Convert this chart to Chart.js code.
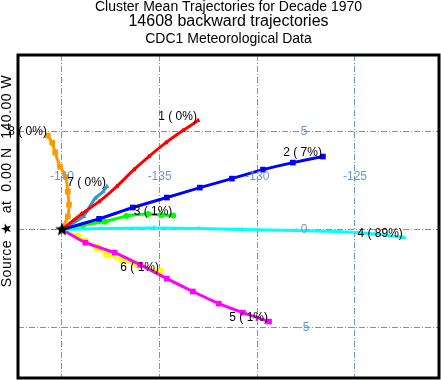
<!DOCTYPE html>
<html>
<head>
<meta charset="utf-8">
<script src="https://cdn.jsdelivr.net/npm/chart.js@4/dist/chart.umd.min.js"></script>
<style>
  html, body { margin: 0; padding: 0; background: #fff; }
  #wrap { width: 441px; height: 380px; position: relative; }
</style>
</head>
<body>
<div id="wrap"><canvas id="trajChart"></canvas></div>
<script>
// --- data (lon, lat) ---
const sourceLon = [-140];
const sourceLat = [0];

const c1Lon = [-140, -139.0, -138.1, -137.2, -136.32, -135.55, -134.68, -133.81, -133.04];
const c1Lat = [0, 0.8, 1.43, 2.2, 3.07, 3.74, 4.45, 5.07, 5.58];
const c2Lon = [-140, -138.1, -136.37, -134.63, -132.94, -131.3, -129.71, -128.18, -126.64];
const c2Lat = [0, 0.55, 1.13, 1.64, 2.15, 2.61, 3.07, 3.43, 3.74];
const c3Lon = [-140, -138.9, -137.8, -136.7, -135.6, -134.9, -134.3];
const c3Lat = [0, 0.25, 0.4, 0.7, 0.8, 0.75, 0.72];
const c4Lon = [-140, -138, -135.3, -133, -130.8, -128, -126, -124, -122.5];
const c4Lat = [0, 0.05, 0.08, 0.05, 0.0, -0.05, -0.1, -0.22, -0.4];
const c5Lon = [-140, -138.8, -137.3, -136.0, -134.63, -133.3, -131.97, -130.74, -129.4];
const c5Lat = [0, -0.67, -1.18, -1.8, -2.51, -3.17, -3.79, -4.25, -4.71];
const c6Lon = [-140, -139.2, -138.8, -138.2, -137.7, -136.9, -136.16, -134.98];
const c6Lat = [0, -0.35, -0.61, -0.92, -1.28, -1.55, -1.79, -2.15];
const c7Lon = [-140, -138.9, -138.57, -138.3, -137.9, -137.7];
const c7Lat = [0, 0.67, 1.18, 1.6, 1.94, 2.2];
const c8Lon = [-140, -139.7, -139.64, -139.7, -139.8, -140.1, -140.35, -140.5, -140.72];
const c8Lat = [0, 0.67, 1.28, 1.94, 2.7, 3.22, 3.95, 4.45, 4.81];

const clusterLabels = ['1 ( 0%)', '2 ( 7%)', '3 ( 1%)', '4 ( 89%)', '5 ( 1%)', '6 ( 1%)', '7 ( 0%)', '8 ( 0%)'];
const lonTicks = [-140, -135, -130, -125];
const latTicks = [-5, 0, 5];

const titleLines = ['Cluster Mean Trajectories for Decade 1970', '14608 backward trajectories', 'CDC1 Meteorological Data'];
const yTitle = 'Source \u2605  at  0.00 N  140.00 W';

const lonList = [c1Lon, c2Lon, c3Lon, c4Lon, c5Lon, c6Lon, c7Lon, c8Lon];
const latList = [c1Lat, c2Lat, c3Lat, c4Lat, c5Lat, c6Lat, c7Lat, c8Lat];
const colors = ['#ff0000', '#0000ff', '#00ff00', '#00ffff', '#ff00ff', '#ffff00', '#3399cc', '#ff9900'];
const styles = ['triangle', 'rect', 'circle', 'triangle', 'rect', 'circle', 'triangle', 'rect'];
const radii = [3, 4, 3, 3, 4, 4, 3, 4];

function toPoints(lons, lats) {
    return lons.map((v, i) => ({ x: v, y: lats[i] }));
}

// filled star for the source
const star = document.createElement('canvas');
star.width = 14; star.height = 14;
(function () {
    const s = star.getContext('2d');
    s.fillStyle = '#000';
    s.beginPath();
    for (let i = 0; i < 10; i++) {
        const r = i % 2 === 0 ? 7 : 3;
        const a = -Math.PI / 2 + i * Math.PI / 5;
        const px = 7 + r * Math.cos(a), py = 7 + r * Math.sin(a);
        if (i === 0) s.moveTo(px, py); else s.lineTo(px, py);
    }
    s.closePath();
    s.fill();
})();

const datasets = lonList.map((lons, i) => ({
    label: clusterLabels[i],
    data: toPoints(lons, latList[i]),
    showLine: true,
    borderColor: colors[i],
    backgroundColor: colors[i],
    borderWidth: 3,
    pointStyle: styles[i],
    pointRadius: lons.map((v, k) => k === 0 ? 0 : radii[i]),
    pointBorderWidth: 0,
    tension: 0.15
}));
datasets.push({
    label: 'source',
    data: toPoints(sourceLon, sourceLat),
    pointStyle: star,
    pointRadius: 7,
    order: -1
});

const overlay = {
    id: 'overlay',
    afterDraw(chart) {
        const ctx = chart.ctx;
        const a = chart.chartArea;
        const x = chart.scales.x, y = chart.scales.y;
        ctx.save();
        // frame
        ctx.strokeStyle = '#000';
        ctx.lineWidth = 3;
        ctx.strokeRect(a.left, a.top, a.right - a.left, a.bottom - a.top);

        // grid labels
        ctx.fillStyle = '#6699cc';
        ctx.font = '12px "Liberation Sans", Arial, sans-serif';
        ctx.textAlign = 'center';
        ctx.textBaseline = 'middle';
        lonTicks.forEach(t => ctx.fillText(String(t), x.getPixelForValue(t), y.getPixelForValue(2.7)));
        latTicks.forEach(t => ctx.fillText(String(t), x.getPixelForValue(-127.6), y.getPixelForValue(t)));

        // cluster labels at the trajectory ends
        ctx.fillStyle = '#000';
        ctx.textAlign = 'right';
        lonList.forEach((lons, i) => {
            const lats = latList[i];
            const n = lons.length - 1;
            ctx.fillText(clusterLabels[i], x.getPixelForValue(lons[n]) - 1, y.getPixelForValue(lats[n]) - 4);
        });

        // titles
        ctx.textAlign = 'center';
        const cx = (a.left + a.right) / 2;
        ctx.font = '14px "Liberation Sans", Arial, sans-serif';
        ctx.fillText(titleLines[0], cx, 7);
        ctx.font = '16px "Liberation Sans", Arial, sans-serif';
        ctx.fillText(titleLines[1], cx, 22);
        ctx.font = '14px "Liberation Sans", Arial, sans-serif';
        ctx.fillText(titleLines[2], cx, 39);

        // side title
        ctx.translate(7, 181);
        ctx.rotate(-Math.PI / 2);
        ctx.font = '14px "Liberation Sans", Arial, sans-serif';
        ctx.letterSpacing = '0.5px';
        ctx.fillText(yTitle, 0, 0);
        ctx.restore();
    }
};

const gridOpts = {
    color: '#6699cc',
    lineWidth: 1,
    drawTicks: false
};

new Chart(document.getElementById('trajChart').getContext('2d'), {
    type: 'scatter',
    data: { datasets: datasets },
    options: {
        responsive: true,
        maintainAspectRatio: false,
        animation: false,
        layout: { autoPadding: false, padding: { left: 18, right: 2, top: 55, bottom: 2 } },
        scales: {
            x: {
                type: 'linear',
                min: -142.25,
                max: -120.7,
                afterBuildTicks: s => { s.ticks = lonTicks.map(v => ({ value: v })); },
                ticks: { display: false },
                grid: gridOpts,
                border: { display: false, dash: [6, 2, 1, 2] }
            },
            y: {
                type: 'linear',
                min: -7.6,
                max: 8.94,
                afterBuildTicks: s => { s.ticks = latTicks.map(v => ({ value: v })); },
                ticks: { display: false },
                grid: gridOpts,
                border: { display: false, dash: [6, 2, 1, 2] }
            }
        },
        plugins: {
            legend: { display: false },
            tooltip: { enabled: false }
        }
    },
    plugins: [overlay]
});
</script>
</body>
</html>
